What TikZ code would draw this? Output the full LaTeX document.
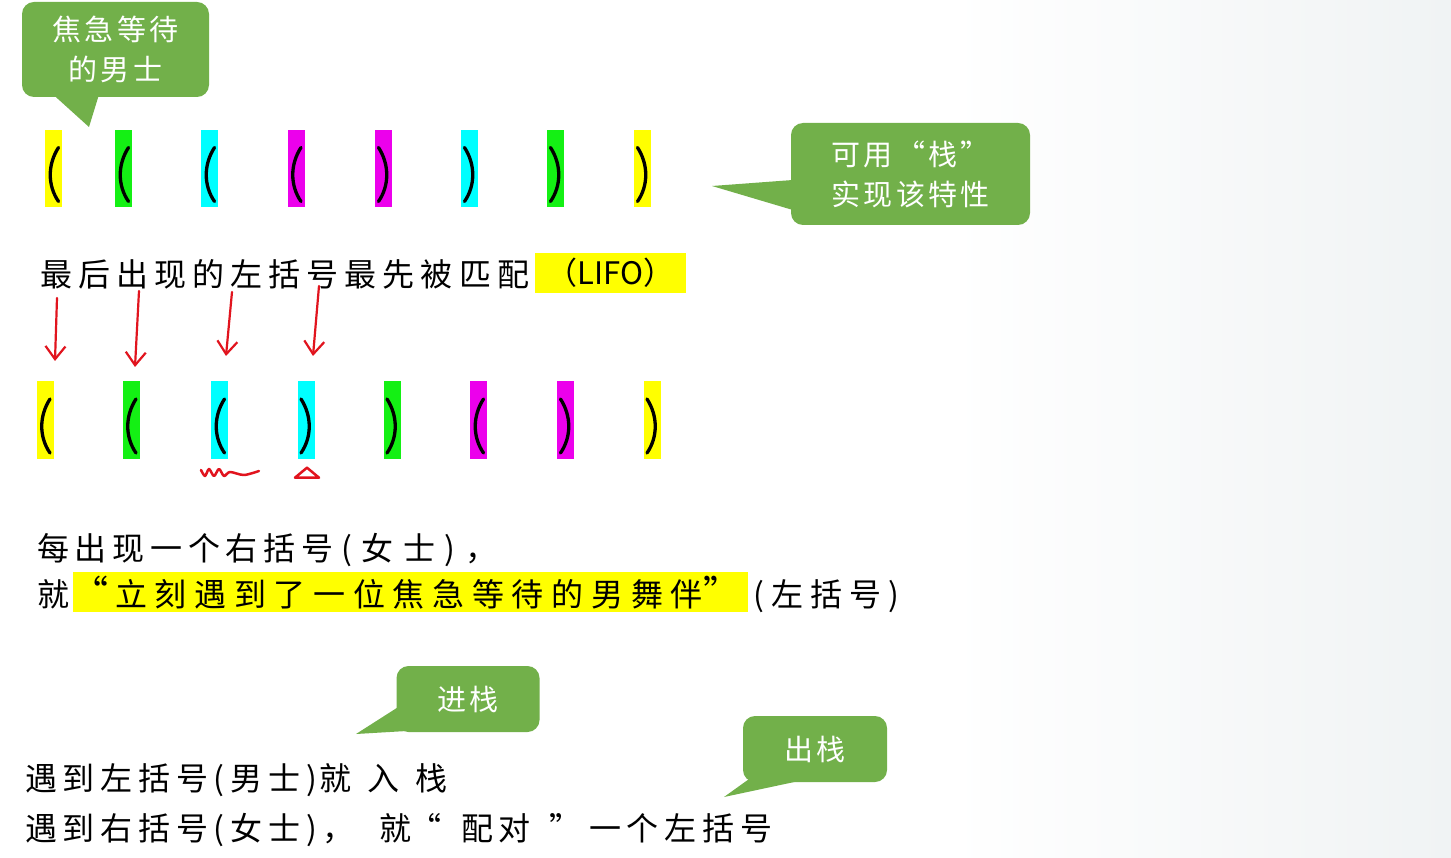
\documentclass[tikz,border=0pt]{standalone}
\usepackage{fontspec}
\setmainfont{Noto Sans CJK SC}
\newfontfamily\cjk[LetterSpace=18]{Noto Sans CJK SC}
\newfontfamily\cjkw[LetterSpace=12]{Noto Sans CJK SC}
\usetikzlibrary{arrows.meta,calc}
\definecolor{cgreen}{RGB}{114,176,74}
\definecolor{byellow}{RGB}{255,255,0}
\definecolor{bgreen}{RGB}{20,240,20}
\definecolor{bcyan}{RGB}{0,255,255}
\definecolor{bmag}{RGB}{236,0,236}
\definecolor{hred}{RGB}{225,20,30}
\definecolor{bgr}{RGB}{240,243,244}
\tikzset{
  brk/.style={minimum width=17pt, minimum height=77pt, inner sep=0pt, draw=none},
  parenline/.style={line width=3.3pt, line cap=round, black},
  callout/.style={fill=cgreen, rounded corners=12pt, inner sep=0pt, text=white, align=center, font=\cjkw\fontsize{29}{40}\selectfont},
  txt/.style={inner sep=0pt, anchor=base west, font=\cjk\fontsize{32}{36}\selectfont, text=black},
  hl/.style={fill=byellow, inner sep=0pt},
  redarrow/.style={hred, line width=2.2pt, line cap=round, -{Straight Barb[length=13pt,width=20pt,line width=2.2pt]}},
  redmark/.style={hred, line width=2.5pt, line cap=round, line join=round}
}
\newcommand\lparen[1]{\draw[parenline] ($(#1.center)+(5,-21)$) .. controls ($(#1.center)+(-6,-4)$) and ($(#1.center)+(-6,17)$) .. ($(#1.center)+(5,33)$);}
\newcommand\rparen[1]{\draw[parenline] ($(#1.center)+(-5,-21)$) .. controls ($(#1.center)+(6,-4)$) and ($(#1.center)+(6,17)$) .. ($(#1.center)+(-5,33)$);}
\newcommand\lspc[1]{\addfontfeatures{LetterSpace=#1}}
\begin{document}
\begin{tikzpicture}[x=1pt,y=-1pt]
\useasboundingbox (0,0) rectangle (1451,858);
\fill[white] (0,0) rectangle (1451,858);
\shade[left color=white, right color=bgr] (950,0) rectangle (1451,858);

% top row of brackets
\node[brk, fill=byellow] (a1) at (53.5,168.5) {};
\node[brk, fill=bgreen]  (a2) at (123.5,168.5) {};
\node[brk, fill=bcyan]   (a3) at (209.5,168.5) {};
\node[brk, fill=bmag]    (a4) at (296,168.5) {};
\node[brk, fill=bmag]    (a5) at (383.5,168.5) {};
\node[brk, fill=bcyan]   (a6) at (469.5,168.5) {};
\node[brk, fill=bgreen]  (a7) at (555.5,168.5) {};
\node[brk, fill=byellow] (a8) at (642.5,168.5) {};
\lparen{a1}\lparen{a2}\lparen{a3}\lparen{a4}
\rparen{a5}\rparen{a6}\rparen{a7}\rparen{a8}

% bottom row of brackets
\node[brk, fill=byellow] (b1) at (45,420) {};
\node[brk, fill=bgreen]  (b2) at (131,420) {};
\node[brk, fill=bcyan]   (b3) at (219.5,420) {};
\node[brk, fill=bcyan]   (b4) at (306,420) {};
\node[brk, fill=bgreen]  (b5) at (392,420) {};
\node[brk, fill=bmag]    (b6) at (478.5,420) {};
\node[brk, fill=bmag]    (b7) at (565.5,420) {};
\node[brk, fill=byellow] (b8) at (652,420) {};
\lparen{b1}\lparen{b2}\lparen{b3}\rparen{b4}
\rparen{b5}\lparen{b6}\rparen{b7}\rparen{b8}

% callout 1
\node[callout, minimum width=187pt, minimum height=95pt] (c1) at (115.5,49.5) {焦急等待\\的男士};
\coordinate (c1tip) at (89,127);
\fill[cgreen] ($(c1.south west)+(32,-2)$) -- (c1tip) -- ($(c1.south west)+(77,-2)$) -- cycle;

% callout 2
\node[callout, minimum width=239pt, minimum height=102pt] (c2) at (910.5,174) {可用“栈”\\实现该特性};
\coordinate (c2tip) at (712,186);
\fill[cgreen] ($(c2.west)+(2,6)$) -- (c2tip) -- ($(c2.west)+(2,36)$) -- cycle;

% callout 3
\node[callout, minimum width=143pt, minimum height=66pt] (c3) at (468,699) {进栈};
\coordinate (c3tip) at (356,734);
\fill[cgreen] ($(c3.west)+(2,8)$) -- (c3tip) -- ($(c3.south west)+(24,-2)$) -- cycle;

% callout 4
\node[callout, minimum width=144pt, minimum height=66pt] (c4) at (815,749) {出栈};
\coordinate (c4tip) at (724,797);
\fill[cgreen] ($(c4.south west)+(6,-3)$) -- (c4tip) -- ($(c4.south west)+(60,-2)$) -- cycle;

% line 1
\node[txt] (t1) at (40,287) {\lspc{19}最后出现的左括号最先被匹配};
\node[hl, minimum width=151pt, minimum height=40pt, font=\fontsize{31}{36}\selectfont] (h1) at (610.5,273) {（LIFO）};

% red arrows
\coordinate (r1s) at (57,298); \coordinate (r1e) at (55,361);
\coordinate (r2s) at (139,291); \coordinate (r2e) at (135,367);
\coordinate (r3s) at (232,292); \coordinate (r3e) at (226,356);
\coordinate (r4s) at (319,286); \coordinate (r4e) at (313,356);
\draw[redarrow] (r1s) -- (r1e);
\draw[redarrow] (r2s) -- (r2e);
\draw[redarrow] (r3s) -- (r3e);
\draw[redarrow] (r4s) -- (r4e);

% red marks under brackets
\draw[redmark] plot[smooth] coordinates {(201,470) (205,476) (209,469) (214,476) (219,469) (224,476) (230,472) (244,475) (259,471)};
\draw[redmark] ($(b4.south)+(-11,19)$) -- ($(b4.south)+(13,19)$) -- ($(b4.south)+(1,9)$) -- cycle;

% line 3
\node[txt] (t3a) at (37,560) {每出现一个右括号};
\node[txt] (t3b) at (341,560) {\lspc{30}(女士)，};

% line 4
\node[hl, minimum width=675pt, minimum height=40pt] (h4) at (410.5,592) {};
\node[txt] (t4a) at (37,606) {\lspc{0}就};
\node[txt, font=\fontsize{36}{36}\selectfont] (t4b) at (72,606) {“};
\node[txt] (t4c) at (115,606) {\lspc{24}立刻遇到了一位焦急等待的男舞伴};
\node[txt, font=\fontsize{36}{36}\selectfont] (t4d) at (703,606) {”};
\node[txt] (t4e) at (753,606) {\lspc{22}(左括号)};

% bottom lines
\node[txt] (t5a) at (25,790) {遇到左括号(男士)};
\node[txt] (t5b) at (319,790) {\lspc{50}就入栈};
\node[txt] (t6a) at (25,840) {遇到右括号(女士)，};
\node[txt] (t6b) at (379,840) {就};
\node[txt] (t6c) at (409,840) {“};
\node[txt] (t6d) at (461,840) {\lspc{16}配对};
\node[txt] (t6e) at (549,840) {”};
\node[txt] (t6f) at (589,840) {一个左括号};
\end{tikzpicture}
\end{document}
